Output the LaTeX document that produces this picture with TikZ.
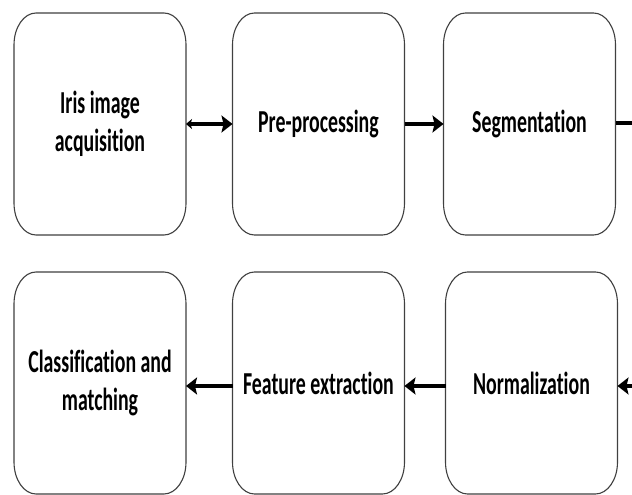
\documentclass[tikz,border=0pt]{standalone}
\usepackage{fontspec}
\newfontfamily\boxfont{Carlito}[FakeStretch=0.62,Ligatures=NoCommon]
\usetikzlibrary{arrows.meta,calc}
\tikzset{
  stepbox/.style={draw=none,minimum width=172pt,minimum height=222pt,inner sep=0pt,outer sep=0pt,
    align=center,font=\boxfont\bfseries\fontsize{32}{38}\selectfont,text=black},
  boxline/.style={draw=black!75,line width=1.1pt},
  flow/.style={line width=3.4pt,draw=black,-{Stealth[length=11pt,width=17pt,inset=2pt]}},
  flowboth/.style={line width=3.4pt,draw=black,{Stealth[length=6pt,width=10pt,inset=1.5pt]}-{Stealth[length=11pt,width=17pt,inset=2pt]}}
}
\begin{document}
\begin{tikzpicture}[x=1pt,y=1pt]
\clip (0,0) rectangle (632,495);
\fill[white] (0,0) rectangle (632,495);
\node[stepbox] (a) at (100,371) {Iris image\\acquisition};
\node[stepbox] (b) at (318.5,371) {Pre-processing};
\node[stepbox] (c) at (529.5,371) {Segmentation};
\node[stepbox] (d) at (100,112) {Classification and\\matching};
\node[stepbox] (e) at (318.5,112) {Feature extraction};
\node[stepbox] (f) at (531.5,112) {Normalization};
\foreach \n in {a,b,c,d,e,f}{
  \draw[boxline] ($(\n.south west)+(0,32)$) -- ($(\n.north west)+(0,-32)$)
    arc[start angle=180,end angle=90,x radius=22,y radius=32]
    -- ($(\n.north east)+(-22,0)$)
    arc[start angle=90,end angle=0,x radius=22,y radius=32]
    -- ($(\n.south east)+(0,32)$)
    arc[start angle=0,end angle=-90,x radius=22,y radius=32]
    -- ($(\n.south west)+(22,0)$)
    arc[start angle=270,end angle=180,x radius=22,y radius=32] -- cycle;
}
\coordinate (cout) at (645,372);
\coordinate (fin) at (645,109);
\draw[flowboth] (a.east) -- (b.west);
\draw[flow] (b.east) -- (c.west);
\draw[line width=3.4pt] ([yshift=1pt]c.east) -- (cout);
\draw[flow] (fin) -- ([yshift=-3pt]f.east);
\draw[flow] ([yshift=-3pt]f.west) -- ([yshift=-3pt]e.east);
\draw[flow] ([yshift=-3pt]e.west) -- ([yshift=-3pt]d.east);
\end{tikzpicture}
\end{document}
